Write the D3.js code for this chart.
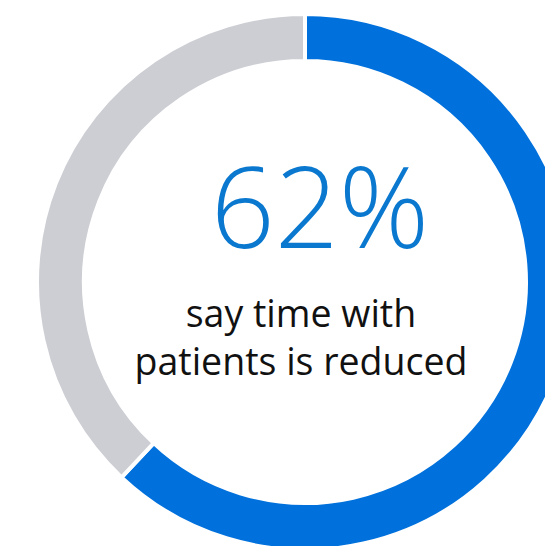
<!DOCTYPE html>
<html>
<head>
<meta charset="utf-8">
<script src="https://cdn.jsdelivr.net/npm/d3@7"></script>
<style>
  html, body { margin: 0; padding: 0; background: #fff; overflow: hidden; }
  svg { display: block; }
</style>
</head>
<body>
<div id="chart"></div>
<script>
// Share of respondents, as a single donut
const categories = ["Reduced", "Other"];
const values = [62, 38];
const colors = ["#0071dc", "#cdced3"];
const headline = "62%";
const captionLines = ["say time with", "patients is reduced"];

const width = 545, height = 546;
const cx = 305, cy = 282;
const outerR = 268, innerR = 221;

const svg = d3.select("#chart").append("svg")
  .attr("width", width).attr("height", height);

const pie = d3.pie().sort(null).value(d => d);
const arc = d3.arc().innerRadius(innerR).outerRadius(outerR);

const g = svg.append("g").attr("transform", `translate(${cx},${cy})`);

g.selectAll("path")
  .data(pie(values))
  .join("path")
  .attr("d", arc)
  .attr("fill", (d, i) => colors[i])
  .attr("stroke", "#fff")
  .attr("stroke-width", 4);

// Headline percentage
svg.append("text")
  .attr("x", 320).attr("y", 248)
  .attr("text-anchor", "middle")
  .attr("font-family", "'Open Sans', sans-serif")
  .attr("font-weight", 300)
  .attr("font-size", 112)
  .attr("fill", "#0a78cf")
  .text(headline);

// Caption under the headline
svg.append("g")
  .selectAll("text")
  .data(captionLines)
  .join("text")
  .attr("x", 301)
  .attr("y", (d, i) => 327 + i * 48)
  .attr("text-anchor", "middle")
  .attr("font-family", "'Open Sans', sans-serif")
  .attr("font-size", 37.5)
  .attr("fill", "#111")
  .text(d => d);
</script>
</body>
</html>
